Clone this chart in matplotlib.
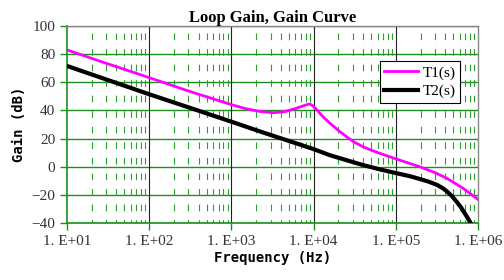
import matplotlib
matplotlib.use("Agg")
import matplotlib.pyplot as plt

title = "Loop Gain, Gain Curve"
xlabel = "Frequency (Hz)"
ylabel = "Gain (dB)"

t1_freq = [10, 30, 100, 300, 1000, 1500, 2200, 3240, 4500, 6160, 7500, 8500, 9040,
           9800, 11000, 13000, 15900, 20000, 25000, 31000, 39800, 50000, 64000,
           100000, 195000, 300000, 420000, 660000, 1000000]
t1_gain = [83, 73.5, 63.3, 53.8, 44.1, 41.2, 39.3, 38.4, 39.2, 41.5, 43.3, 44.3, 44.6,
           43.2, 40.3, 35.5, 30.8, 25.8, 21.4, 17.6, 14.2, 11.8, 9.5,
           5.6, 0, -4.2, -8.3, -15.4, -23.2]

t2_freq = [10, 100, 1000, 2460, 6160, 10000, 15900, 39800, 64000, 100000,
           150000, 195000, 250000, 320000, 380000, 420000, 480000, 550000,
           620000, 690000, 750000, 810000]
t2_gain = [71.6, 51.5, 32, 24.2, 16.6, 12.5, 8.1, 1.2, -1.9, -4.5,
           -6.8, -8.7, -10.6, -13, -15.6, -17.6, -20.8, -24.9,
           -28.8, -33.1, -36.5, -39.8]

xticks = [1e1, 1e2, 1e3, 1e4, 1e5, 1e6]
xticklabels = ["1. E+01", "1. E+02", "1. E+03", "1. E+04", "1. E+05", "1. E+06"]
yticks = [-40, -20, 0, 20, 40, 60, 80, 100]

green = "#1a8f1a"

fig = plt.figure(figsize=(5.04, 2.8), dpi=100)
ax = fig.add_axes([67/504, 1-223/280, (478-67)/504, (223-26)/280])
ax.set_xscale("log")
ax.set_xlim(1e1, 1e6)
ax.set_ylim(-40, 100)

# grid
for y in yticks:
    ax.axhline(y, color=green, lw=1.0, zorder=1)
for d in range(1, 6):
    for m in range(2, 10):
        ax.axvline(m * 10**d, color="#2ca02c", lw=0.8, ls=(3, (6, 8)), zorder=1)
for x in xticks[1:-1]:
    ax.axvline(x, color="#222222", lw=0.8, zorder=1)

ax.plot(t1_freq, t1_gain, color="#ff00ff", lw=2.0, label="T1(s)", zorder=3)
ax.plot(t2_freq, t2_gain, color="black", lw=3.0, label="T2(s)", zorder=3)

ax.set_xticks(xticks)
ax.set_xticklabels(xticklabels, family="Liberation Serif", fontsize=11, color="#333333")
ax.minorticks_off()
ax.set_yticks(yticks)
ax.set_yticklabels([str(v).replace("-", "\u2212") for v in yticks], family="Liberation Serif", fontsize=11, color="#333333")
ax.tick_params(axis="both", direction="out", color=green, length=5, width=1)

for s in ["left", "bottom"]:
    ax.spines[s].set_color(green)
    ax.spines[s].set_linewidth(1.2)
for s in ["top", "right"]:
    ax.spines[s].set_color("#888888")
    ax.spines[s].set_linewidth(1.0)

ax.set_title(title, family="Liberation Serif", fontweight="bold", fontsize=12, pad=3)
ax.set_xlabel(xlabel, family="DejaVu Sans Mono", fontweight="bold", fontsize=10, labelpad=2)
ax.set_ylabel(ylabel, family="DejaVu Sans Mono", fontweight="bold", fontsize=10, labelpad=4)

leg = ax.legend(loc="upper right", bbox_to_anchor=(0.975, 0.86), prop={"family": "Liberation Serif", "size": 11},
                frameon=True, fancybox=False, edgecolor="black", framealpha=1, handlelength=2.2,
                borderpad=0.3, labelspacing=0.3, handletextpad=0.3)
leg.get_frame().set_linewidth(0.8)
leg.set_zorder(5)

fig.savefig("out.png", dpi=100)
